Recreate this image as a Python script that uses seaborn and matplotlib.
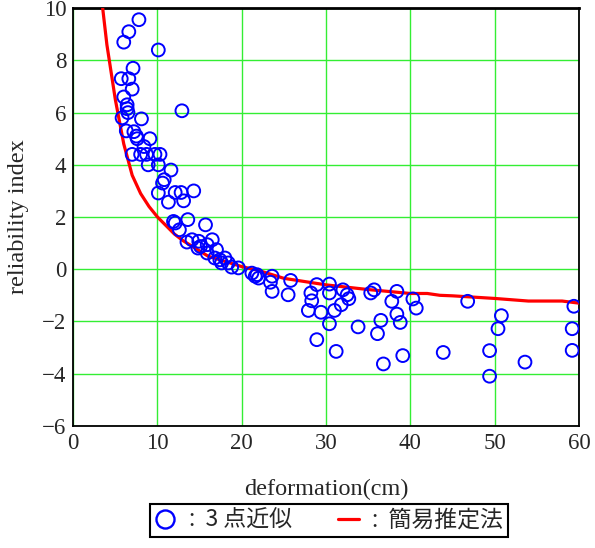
import numpy as np
import pandas as pd
import seaborn as sns
import matplotlib.pyplot as plt
from matplotlib.lines import Line2D

# 3 点近似 (circles)
pt_x = [7.8, 6.6, 6.0, 10.1, 7.1, 5.7, 6.6, 7.0, 6.0, 6.4, 6.4, 6.5, 5.8, 8.1, 12.9,
        6.3, 7.2, 7.5, 7.6, 9.1, 8.4, 7.0, 8.0, 8.7, 9.7, 10.3, 8.9, 10.1, 11.6, 10.8,
        10.6, 10.1, 12.1, 12.8, 14.3, 11.3, 13.1, 11.9, 12.1, 13.6, 15.7, 12.6, 13.5, 14.1,
        14.9, 15.1, 14.8, 15.9, 16.5, 17.0, 15.9, 16.8, 17.4, 18.0, 17.6, 18.4, 18.8, 19.6,
        21.2, 21.8, 22.0, 21.6, 23.6, 23.4, 23.6, 25.8, 25.5, 28.9, 28.2, 28.3, 27.9, 29.4,
        30.4, 30.4, 30.4, 31.0, 31.8, 32.0, 32.5, 32.7, 28.9, 31.2, 33.8, 35.3, 35.7, 36.5,
        36.1, 36.8, 38.4, 37.8, 38.4, 38.8, 39.1, 40.3, 40.7, 43.9, 46.8, 50.8, 50.4, 49.4,
        53.6, 49.4, 59.4, 59.2, 59.2]
pt_y = [9.56, 9.1, 8.7, 8.4, 7.7, 7.3, 7.3, 6.9, 6.6, 6.3, 6.15, 6.0, 5.8, 5.76, 6.07,
        5.3, 5.27, 5.1, 5.0, 5.0, 4.7, 4.4, 4.4, 4.4, 4.4, 4.4, 4.0, 4.0, 3.8, 3.43,
        3.3, 2.92, 2.94, 2.94, 3.0, 2.57, 2.62, 1.83, 1.77, 1.9, 1.7, 1.51, 1.04, 1.13,
        1.07, 0.87, 0.81, 0.94, 1.13, 0.75, 0.62, 0.43, 0.36, 0.43, 0.24, 0.24, 0.08, 0.05,
        -0.15, -0.21, -0.34, -0.27, -0.27, -0.5, -0.85, -0.43, -0.98, -0.59, -0.91, -1.21, -1.58, -1.65,
        -0.57, -0.91, -2.09, -1.58, -1.36, -0.79, -0.98, -1.13, -2.7, -3.15, -2.21, -0.91, -0.79, -1.96,
        -2.47, -3.63, -0.85, -1.23, -1.72, -2.04, -3.31, -1.14, -1.49, -3.19, -1.23, -1.78, -2.28, -3.12,
        -3.56, -4.1, -1.42, -2.28, -3.11]

# 簡易推定法 (red line)
curve_x = [3.5, 4, 5, 6, 7, 8, 9, 10, 12, 13, 14, 16, 18, 20, 22, 25, 30, 35, 40, 42,
           43.5, 45, 49, 50, 54, 55, 58, 60]
curve_y = [10.0, 8.6, 6.5, 4.8, 3.6, 2.9, 2.4, 2.0, 1.35, 1.1, 0.9, 0.5, 0.3, 0.1, -0.05, -0.35,
           -0.6, -0.78, -0.93, -0.93, -1.0, -1.02, -1.1, -1.12, -1.22, -1.22, -1.22, -1.3]

pts = pd.DataFrame({"x": pt_x, "y": pt_y})
crv = pd.DataFrame({"x": curve_x, "y": curve_y})

sns.set_style("white")
plt.rcParams["font.family"] = ["Liberation Serif", "DejaVu Serif"]

fig = plt.figure(figsize=(5.95, 5.48), dpi=100)
ax = fig.add_axes([0.123, 0.223, 0.850, 0.762])

sns.lineplot(data=crv, x="x", y="y", color="#ff0000", linewidth=2.3, ax=ax, zorder=3)
sns.scatterplot(data=pts, x="x", y="y", marker="o", s=85, facecolors="none",
                edgecolor="#0000ff", linewidth=1.4, ax=ax, zorder=4)

ax.set_xlim(0, 60)
ax.set_ylim(-6, 10)
ax.set_xticks(range(0, 61, 10))
ax.set_yticks(range(-6, 11, 2))
ax.grid(True, color="#33ee33", linewidth=1.0)
ax.set_axisbelow(True)
for s in ax.spines.values():
    s.set_color("black")
    s.set_linewidth(1.3)
ax.spines["top"].set_linewidth(2)
ax.tick_params(length=0, labelsize=16.5, pad=5)
ax.set_xlabel("deformation(cm)", fontsize=17.5, labelpad=18)
ax.set_ylabel("reliability index", fontsize=17.5, labelpad=9)

handles = [
    Line2D([], [], linestyle="none", marker="o", markersize=13, markerfacecolor="none",
           markeredgecolor="#0000ff", markeredgewidth=1.7),
    Line2D([], [], color="#ff0000", linewidth=2.3),
]
leg = fig.legend(handles, [":  3 点近似", ":  簡易推定法"], loc="lower center",
                 bbox_to_anchor=(0.553, 0.0), ncol=2, handlelength=0.9,
                 handletextpad=0.6, columnspacing=2.0, fancybox=False,
                 edgecolor="black", framealpha=1, borderpad=0.2,
                 prop={"family": ["Noto Sans CJK JP"], "size": 16.5})
leg.get_frame().set_linewidth(1.5)

fig.savefig("out.png", dpi=100)
